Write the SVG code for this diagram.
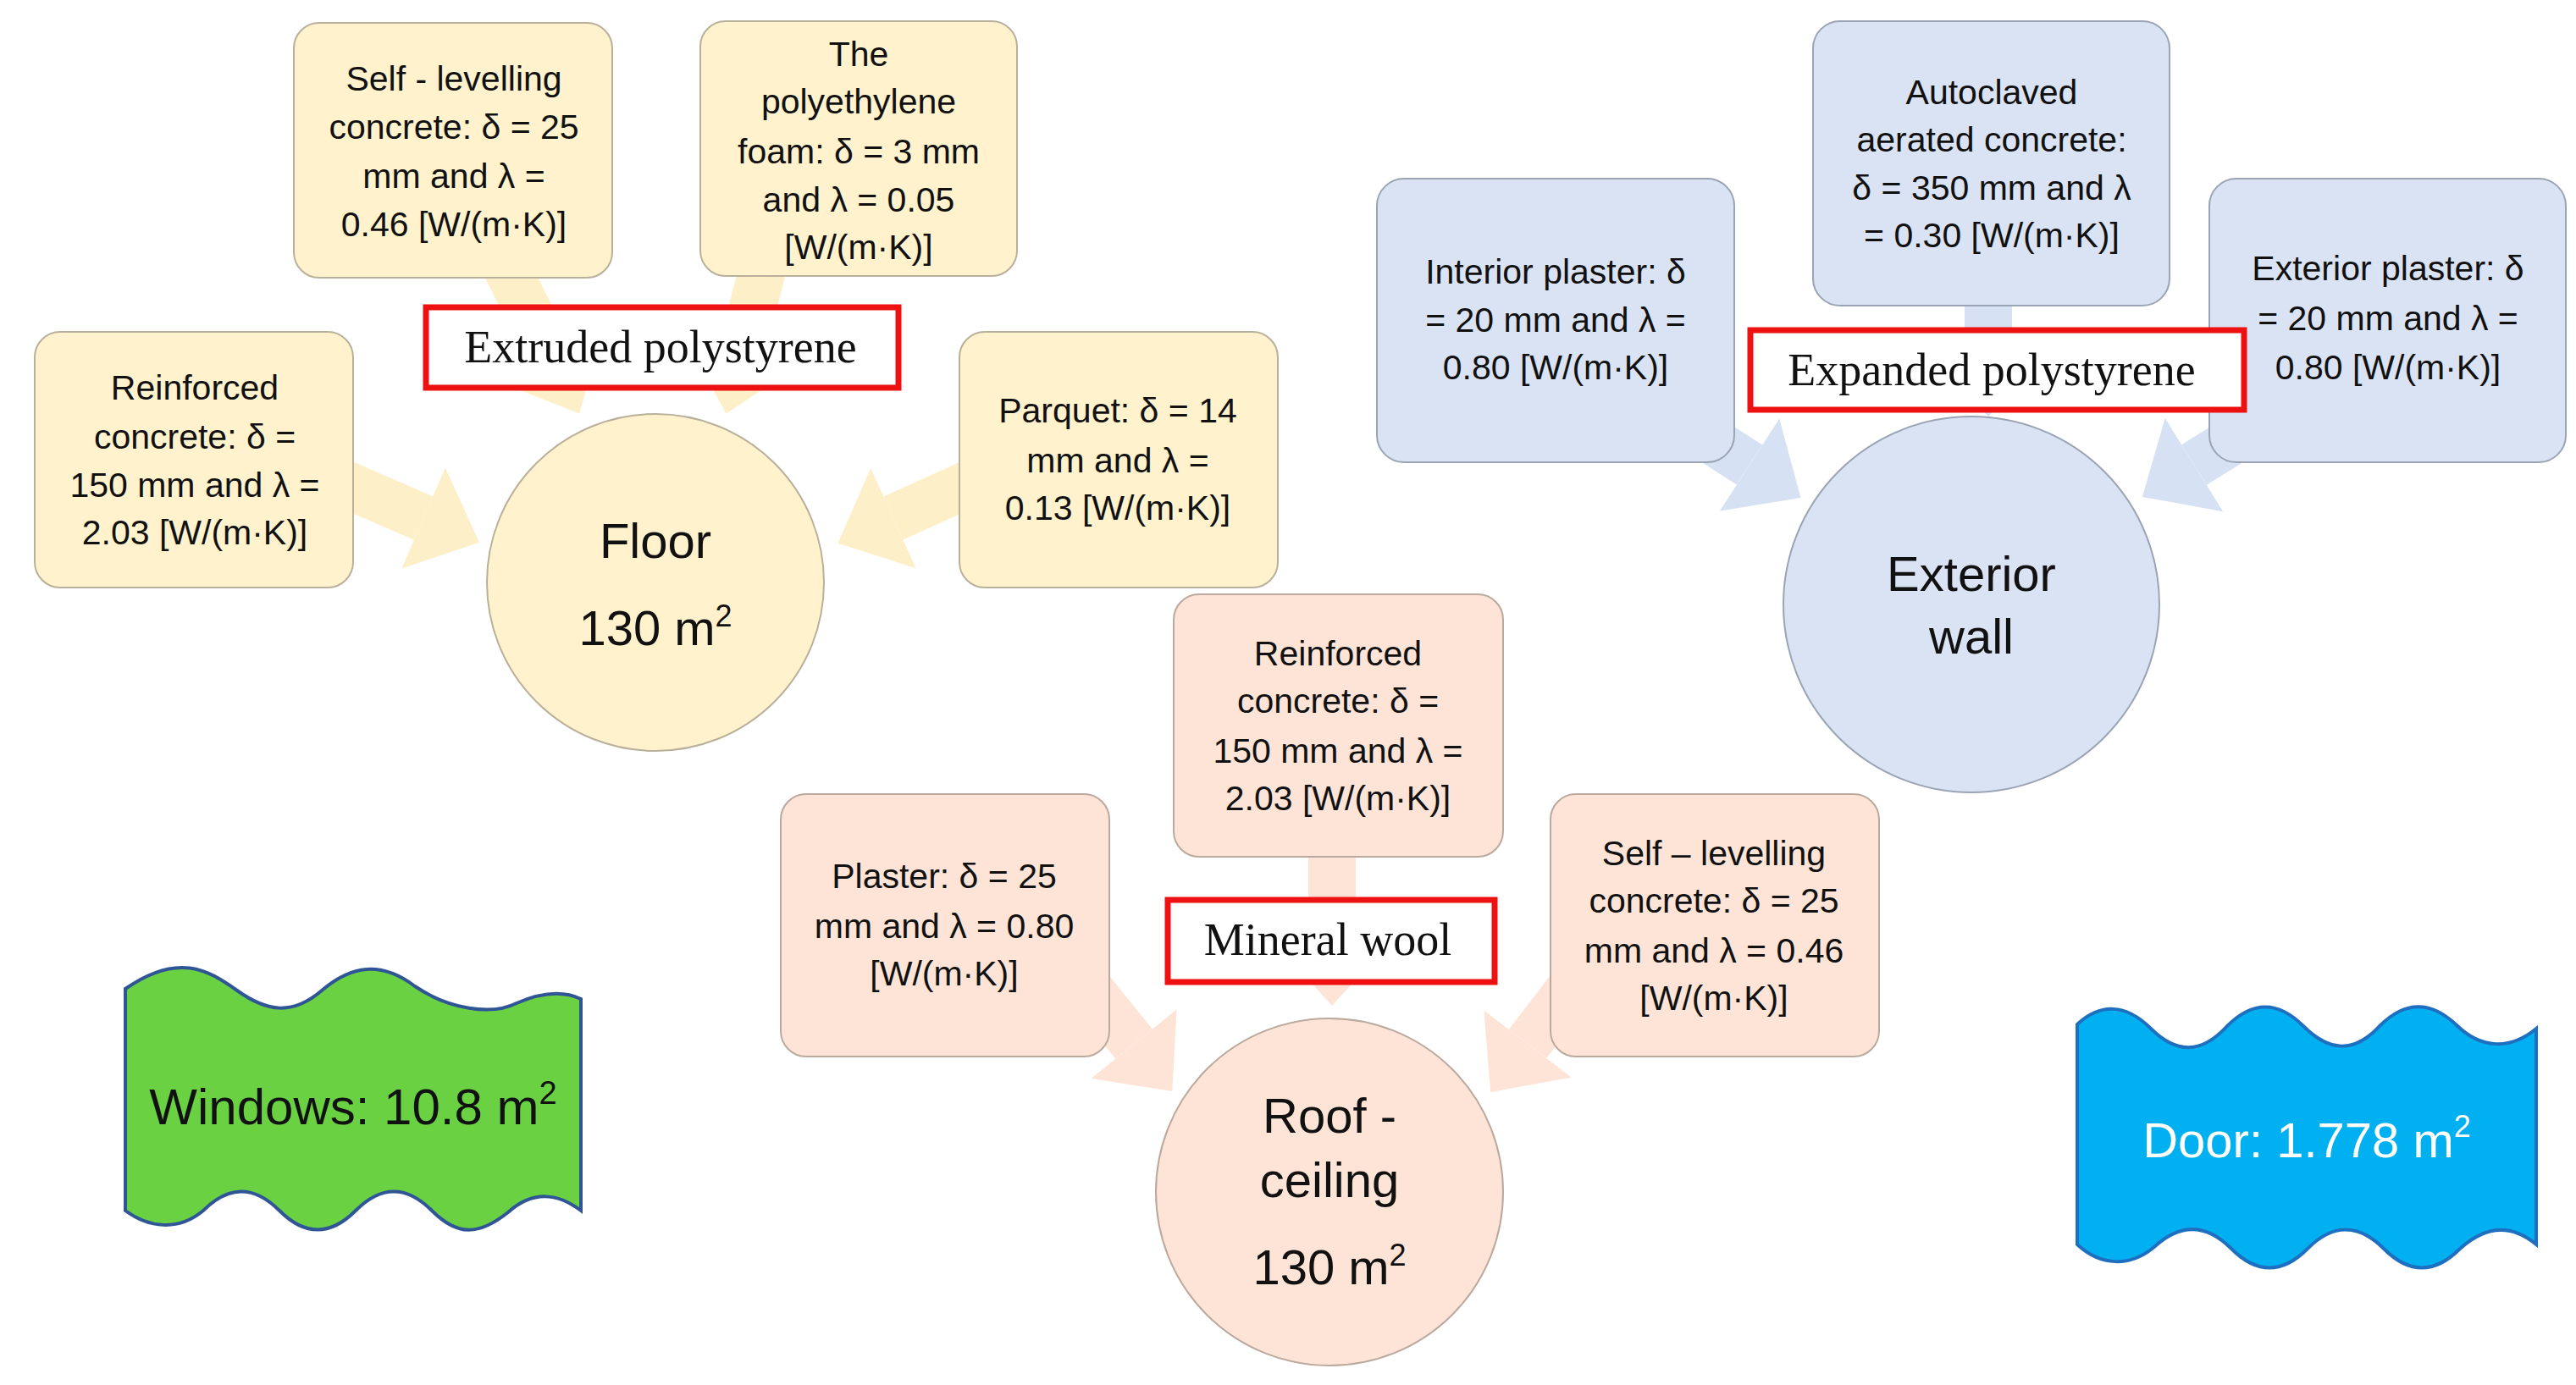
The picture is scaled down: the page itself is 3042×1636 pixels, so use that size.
<svg xmlns="http://www.w3.org/2000/svg" width="3042" height="1636" viewBox="0 0 3042 1636">
<style>
.t{font-family:"Liberation Sans",Arial,sans-serif;font-size:41px;fill:#111;text-anchor:middle}
.c{font-family:"Liberation Sans",Arial,sans-serif;font-size:58px;fill:#111;text-anchor:middle}
.r{font-family:"Liberation Serif","Times New Roman",serif;font-size:54px;fill:#111;text-anchor:middle}
.y{fill:#fff2cc;stroke:#b8b09a;stroke-width:2}
.b{fill:#dae3f3;stroke:#9aa4b4;stroke-width:2}
.s{fill:#fde4d6;stroke:#bba99e;stroke-width:2}
.lab{fill:#fff;stroke:#ee1111;stroke-width:7}
.ay{stroke:#fdefc8;stroke-width:56;fill:none}
.ab{stroke:#d6e2f3;stroke-width:56;fill:none}
.as{stroke:#fde4d6;stroke-width:56;fill:none}
</style>
<defs>
<marker id="my" markerUnits="userSpaceOnUse" markerWidth="72" markerHeight="130" refX="0" refY="65" orient="auto"><path d="M0,0 L72,65 L0,130 z" fill="#fdefc8"/></marker>
<marker id="mb" markerUnits="userSpaceOnUse" markerWidth="72" markerHeight="130" refX="0" refY="65" orient="auto"><path d="M0,0 L72,65 L0,130 z" fill="#d6e2f3"/></marker>
<marker id="ms" markerUnits="userSpaceOnUse" markerWidth="72" markerHeight="130" refX="0" refY="65" orient="auto"><path d="M0,0 L72,65 L0,130 z" fill="#fde4d6"/></marker>
</defs>
<rect width="3042" height="1636" fill="#fff"/>
<g id="connectors">
<line class="ay" x1="380" y1="560" x2="500" y2="612" marker-end="url(#my)"/>
<line class="ay" x1="1170" y1="560" x2="1055" y2="612" marker-end="url(#my)"/>
<line class="ay" x1="590" y1="300" x2="652" y2="424" marker-end="url(#my)"/>
<line class="ay" x1="905" y1="300" x2="875" y2="419" marker-end="url(#my)"/>
<line class="ab" x1="2348" y1="330" x2="2348" y2="420" marker-end="url(#mb)"/>
<line class="ab" x1="1990" y1="500" x2="2066" y2="549" marker-end="url(#mb)"/>
<line class="ab" x1="2670" y1="500" x2="2591" y2="549" marker-end="url(#mb)"/>
<line class="as" x1="1573" y1="980" x2="1573" y2="1116" marker-end="url(#ms)"/>
<line class="as" x1="1280" y1="1160" x2="1339" y2="1233" marker-end="url(#ms)"/>
<line class="as" x1="1860" y1="1160" x2="1804" y2="1233" marker-end="url(#ms)"/>
</g>
<g id="floor"><circle class="y" cx="774" cy="688" r="199"/><text class="c" x="774" y="659">Floor</text><text class="c" x="774" y="762">130 m<tspan dy="-22" font-size="36">2</tspan></text></g>
<g id="self-levelling-floor"><rect class="y" x="347" y="27" width="376" height="301" rx="30"/>
<text class="t" x="536" y="107">Self - levelling</text><text class="t" x="536" y="164">concrete: δ = 25</text><text class="t" x="536" y="222">mm and λ =</text><text class="t" x="536" y="279">0.46 [W/(m·K)]</text></g>
<g id="polyethylene"><rect class="y" x="827" y="25" width="374" height="301" rx="30"/>
<text class="t" x="1014" y="78">The</text><text class="t" x="1014" y="134">polyethylene</text><text class="t" x="1014" y="193">foam: δ = 3 mm</text><text class="t" x="1014" y="250">and λ = 0.05</text><text class="t" x="1014" y="306">[W/(m·K)]</text></g>
<g id="reinforced-floor"><rect class="y" x="41" y="392" width="376" height="302" rx="30"/>
<text class="t" x="230" y="472">Reinforced</text><text class="t" x="230" y="530">concrete: δ =</text><text class="t" x="230" y="587">150 mm and λ =</text><text class="t" x="230" y="643">2.03 [W/(m·K)]</text></g>
<g id="parquet"><rect class="y" x="1133" y="392" width="376" height="302" rx="30"/>
<text class="t" x="1320" y="499">Parquet: δ = 14</text><text class="t" x="1320" y="558">mm and λ =</text><text class="t" x="1320" y="614">0.13 [W/(m·K)]</text></g>
<g id="extruded"><rect class="lab" x="503" y="363" width="558" height="95"/><text class="r" x="780" y="428">Extruded polystyrene</text></g>

<g id="exterior-wall"><circle class="b" cx="2328" cy="714" r="222"/><text class="c" x="2328" y="698">Exterior</text><text class="c" x="2328" y="772">wall</text></g>
<g id="interior-plaster"><rect class="b" x="1626" y="211" width="422" height="335" rx="32"/>
<text class="t" x="1837" y="335">Interior plaster: δ</text><text class="t" x="1837" y="392">= 20 mm and λ =</text><text class="t" x="1837" y="448">0.80 [W/(m·K)]</text></g>
<g id="autoclaved"><rect class="b" x="2141" y="25" width="421" height="336" rx="32"/>
<text class="t" x="2352" y="123">Autoclaved</text><text class="t" x="2352" y="179">aerated concrete:</text><text class="t" x="2352" y="236">δ = 350 mm and λ</text><text class="t" x="2352" y="292">= 0.30 [W/(m·K)]</text></g>
<g id="exterior-plaster"><rect class="b" x="2609" y="211" width="421" height="335" rx="32"/>
<text class="t" x="2820" y="331">Exterior plaster: δ</text><text class="t" x="2820" y="390">= 20 mm and λ =</text><text class="t" x="2820" y="448">0.80 [W/(m·K)]</text></g>
<g id="expanded"><rect class="lab" x="2067" y="390" width="583" height="94"/><text class="r" x="2352" y="455">Expanded polystyrene</text></g>

<g id="roof"><circle class="s" cx="1570" cy="1408" r="205"/><text class="c" x="1570" y="1338">Roof -</text><text class="c" x="1570" y="1414">ceiling</text><text class="c" x="1570" y="1517">130 m<tspan dy="-22" font-size="36">2</tspan></text></g>
<g id="reinforced-roof"><rect class="s" x="1386" y="702" width="389" height="310" rx="30"/>
<text class="t" x="1580" y="786">Reinforced</text><text class="t" x="1580" y="842">concrete: δ =</text><text class="t" x="1580" y="901">150 mm and λ =</text><text class="t" x="1580" y="957">2.03 [W/(m·K)]</text></g>
<g id="plaster"><rect class="s" x="922" y="938" width="388" height="310" rx="30"/>
<text class="t" x="1115" y="1049">Plaster: δ = 25</text><text class="t" x="1115" y="1108">mm and λ = 0.80</text><text class="t" x="1115" y="1164">[W/(m·K)]</text></g>
<g id="self-levelling-roof"><rect class="s" x="1831" y="938" width="388" height="310" rx="30"/>
<text class="t" x="2024" y="1022">Self – levelling</text><text class="t" x="2024" y="1078">concrete: δ = 25</text><text class="t" x="2024" y="1137">mm and λ = 0.46</text><text class="t" x="2024" y="1193">[W/(m·K)]</text></g>
<g id="mineral"><rect class="lab" x="1379" y="1063" width="386" height="97"/><text class="r" x="1568" y="1128">Mineral wool</text></g>

<g id="windows"><path d="M148,1168 C210,1125 245,1145 280,1170 C315,1195 345,1200 380,1170 C415,1140 450,1135 490,1165 C530,1192 580,1200 610,1185 C640,1172 665,1170 686,1180 L686,1430 C660,1410 630,1405 600,1432 C565,1460 540,1460 510,1430 C480,1400 450,1400 420,1430 C390,1460 360,1460 330,1430 C300,1400 270,1400 240,1430 C210,1455 175,1450 148,1430 Z" fill="#6ad242" stroke="#2f5597" stroke-width="4"/>
<text x="417" y="1328" font-family="Liberation Sans,Arial,sans-serif" font-size="60" fill="#111" text-anchor="middle">Windows: 10.8 m<tspan dy="-24" font-size="38">2</tspan></text></g>
<g id="door"><path d="M2453,1210 C2480,1185 2510,1185 2540,1215 C2570,1245 2600,1245 2630,1212 C2660,1182 2690,1182 2720,1212 C2750,1242 2780,1245 2810,1212 C2840,1182 2870,1182 2900,1210 C2930,1240 2965,1240 2995,1215 L2995,1470 C2965,1445 2935,1448 2905,1475 C2875,1505 2845,1505 2815,1475 C2785,1445 2755,1445 2725,1475 C2695,1505 2665,1505 2635,1475 C2605,1445 2575,1445 2545,1472 C2515,1498 2480,1495 2453,1470 Z" fill="#00b0f0" stroke="#1f6fc0" stroke-width="4"/>
<text x="2724" y="1367" font-family="Liberation Sans,Arial,sans-serif" font-size="58" fill="#fff" text-anchor="middle">Door: 1.778 m<tspan dy="-24" font-size="36">2</tspan></text></g>
</svg>
